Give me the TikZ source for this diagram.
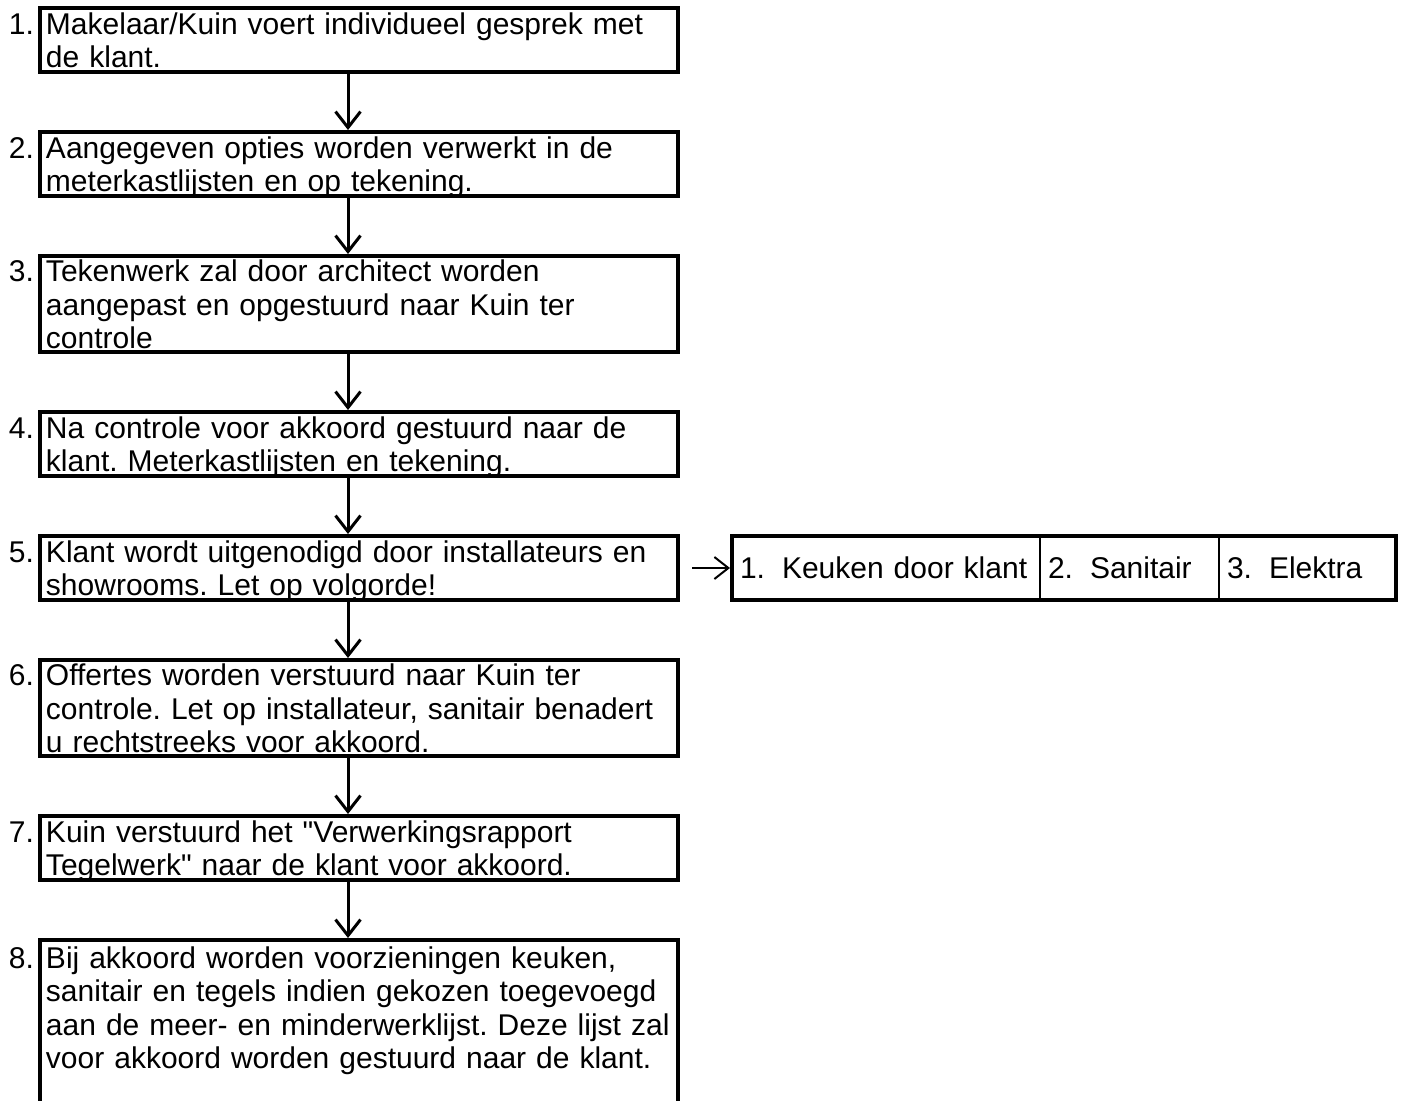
\documentclass[tikz,border=0pt]{standalone}
\usepackage{fontspec}
\setmainfont{Liberation Sans}
\usetikzlibrary{positioning,arrows.meta}

\newcommand{\stepnr}[1]{\noindent\llap{#1\hspace{6pt}}}

\tikzset{
  stepbox/.style={draw, line width=2pt, text width=313pt, inner xsep=3pt,
    inner ysep=-1.5pt, minimum height=32pt, align=left,
    text height=14.2pt, execute at end node={\vphantom{g}},
    font=\fontsize{15pt}{16.75pt}\selectfont\frenchspacing},
  cell/.style={draw, line width=1pt, outer sep=0pt, minimum height=32pt,
    inner xsep=4pt, inner ysep=0pt, align=left,
    font=\fontsize{15pt}{16.75pt}\selectfont},
  arr/.style={-{Straight Barb[length=8pt,width=12.5pt]}, line width=1.5pt},
  harr/.style={-{Straight Barb[length=7pt,width=11pt]}, line width=1pt}
}

\begin{document}
\begin{tikzpicture}[x=1pt,y=1pt,node distance=28pt]
  \useasboundingbox (0,0) rectangle (702.5,-550);

  \node[stepbox, anchor=north west] (b1) at (19,-3) {
    \stepnr{1.}Makelaar/Kuin voert individueel gesprek met\\de klant.};
  \node[stepbox] (b2) [below=of b1] {
    \stepnr{2.}Aangegeven opties worden verwerkt in de\\meterkastlijsten en op tekening.};
  \node[stepbox, minimum height=48pt] (b3) [below=of b2] {
    \stepnr{3.}Tekenwerk zal door architect worden\\aangepast en opgestuurd naar Kuin ter\\controle};
  \node[stepbox] (b4) [below=of b3] {
    \stepnr{4.}Na controle voor akkoord gestuurd naar de\\klant. Meterkastlijsten en tekening.};
  \node[stepbox] (b5) [below=of b4] {
    \stepnr{5.}Klant wordt uitgenodigd door installateurs en\\showrooms. Let op volgorde!};
  \node[stepbox, minimum height=48pt] (b6) [below=of b5] {
    \stepnr{6.}Offertes worden verstuurd naar Kuin ter\\controle. Let op installateur, sanitair benadert\\u rechtstreeks voor akkoord.};
  \node[stepbox] (b7) [below=of b6] {
    \stepnr{7.}Kuin verstuurd het \textquotedbl Verwerkingsrapport\\Tegelwerk\textquotedbl{} naar de klant voor akkoord.};
  \node[stepbox, inner ysep=0pt, text depth=110pt] (b8) [below=of b7] {
    \stepnr{8.}Bij akkoord worden voorzieningen keuken,\\sanitair en tegels indien gekozen toegevoegd\\aan de meer- en minderwerklijst. Deze lijst zal\\voor akkoord worden gestuurd naar de klant.};

  % choices next to step 5
  \node[cell, text width=146pt] (k1) [right=26pt of b5] {\makebox[21pt][l]{1.}Keuken door klant};
  \node[cell, text width=81.5pt] (k2) [right=0pt of k1] {\makebox[21pt][l]{2.}Sanitair};
  \node[cell, text width=80.5pt] (k3) [right=0pt of k2] {\makebox[21pt][l]{3.}Elektra};
  \draw[line width=2pt] (k1.north west) rectangle (k3.south east);

  \coordinate (ax) at (174,0);
  \foreach \a/\b in {b1/b2,b2/b3,b3/b4,b4/b5,b5/b6,b6/b7,b7/b8}
    \draw[arr] (\a.south -| ax) -- (\b.north -| ax);
  \draw[harr, shorten <=6pt, shorten >=1pt] (b5.east) -- (k1.west);
\end{tikzpicture}
\end{document}
